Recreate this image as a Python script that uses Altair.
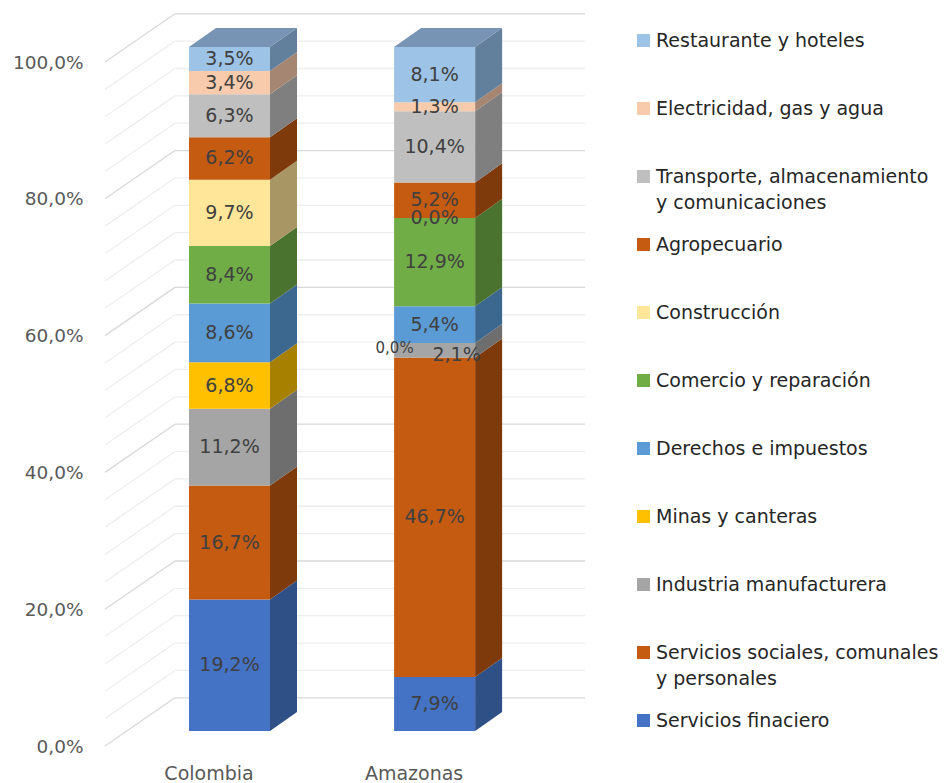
import altair as alt
import pandas as pd

# ---------------- data ----------------
paises = ["Colombia", "Amazonas"]
sectores = [
    "Servicios finaciero",
    "Servicios sociales, comunales y personales",
    "Industria manufacturera",
    "Minas y canteras",
    "Derechos e impuestos",
    "Comercio y reparación",
    "Construcción",
    "Agropecuario",
    "Transporte, almacenamiento y comunicaciones",
    "Electricidad, gas y agua",
    "Restaurante y hoteles",
]
colombia = [19.2, 16.7, 11.2, 6.8, 8.6, 8.4, 9.7, 6.2, 6.3, 3.4, 3.5]
amazonas = [7.9, 46.7, 2.1, 0.0, 5.4, 12.9, 0.0, 5.2, 10.4, 1.3, 8.1]
ticks_y = [0, 20, 40, 60, 80, 100]
grid_y = list(range(0, 101, 4))

# ---------------- styles ----------------
colores = ["#4472C4", "#C55A11", "#A5A5A5", "#FFC000", "#5B9BD5", "#70AD47",
           "#FFE699", "#C55A11", "#BFBFBF", "#F8CBAD", "#9DC3E6"]
colores_lado = ["#2F4F87", "#7F3A0C", "#6E6E6E", "#A88000", "#3C6890", "#4A7330",
                "#A89664", "#7F3A0C", "#7F7F7F", "#A58673", "#627F9C"]
colores_tapa = ["#3A5FA3", "#9E4810", "#8A8A8A", "#CC9A00", "#4C81B0", "#5C8D3A",
                "#CCB87A", "#9E4810", "#9A9A9A", "#C9A48C", "#7894B4"]
FONT = "DejaVu Sans"

# 3-D geometry in scale units
X_DOM = [0.393, 2.743]
MEDIO = 0.1975          # half bar width
FRENTE_DY = 2.2         # bar front plane lift
PROF_DX, PROF_DY = 0.1316, 2.78   # bar depth
MURO_X0, MURO_X1, MURO_X2 = 0.393, 0.734, 2.733
MURO_DY = 7.05

# ---------------- tables ----------------
rows = []
for p_i, (pais, vals) in enumerate(zip(paises, [colombia, amazonas])):
    base = 0.0
    for s_i, (sec, v) in enumerate(zip(sectores, vals)):
        rows.append(dict(pais=pais, pos=p_i + 1, sector=sec, orden=s_i, valor=v,
                         y0=base, y1=base + v))
        base += v
seg = pd.DataFrame(rows)
seg["xl"] = seg["pos"] - MEDIO
seg["xr"] = seg["pos"] + MEDIO
seg["f0"] = seg["y0"] + FRENTE_DY
seg["f1"] = seg["y1"] + FRENTE_DY
seg["fm"] = (seg["f0"] + seg["f1"]) / 2
seg["etiqueta"] = seg["valor"].map(lambda v: f"{v:.1f}".replace(".", ",") + "%")
seg["id"] = seg["pais"] + "|" + seg["sector"]

lado_rows = []
for _, r in seg.iterrows():
    lado_rows.append(dict(id=r["id"], sector=r["sector"], x=r["xr"], ya=r["f1"], yb=r["f0"]))
    lado_rows.append(dict(id=r["id"], sector=r["sector"], x=r["xr"] + PROF_DX,
                          ya=r["f1"] + PROF_DY, yb=r["f0"] + PROF_DY))
lado = pd.DataFrame(lado_rows)

tapa_rows = []
for pais in paises:
    r = seg[seg["pais"] == pais].sort_values("orden").iloc[-1]
    tapa_rows.append(dict(pais=pais, sector=r["sector"], ty=r["f1"], tx=r["xl"], tx2=r["xr"]))
    tapa_rows.append(dict(pais=pais, sector=r["sector"], ty=r["f1"] + PROF_DY,
                          tx=r["xl"] + PROF_DX, tx2=r["xr"] + PROF_DX))
tapa = pd.DataFrame(tapa_rows)

grid = pd.DataFrame({"v": grid_y})
grid["vb"] = grid["v"] + MURO_DY
grid["x0"] = MURO_X0
grid["x1"] = MURO_X1
grid["x2"] = MURO_X2
grid["mayor"] = grid["v"] % 20 == 0

# ---------------- scales / axes ----------------
xs = alt.Scale(domain=X_DOM, nice=False, zero=False)
ys = alt.Scale(domain=[0, 100], nice=False, zero=False)
x_lbl = "[" + ",".join("'" + p + "'" for p in paises) + "][datum.value - 1]"
x_axis = alt.Axis(values=[1, 2], labelExpr=x_lbl, domain=False, ticks=False, tickSize=0,
                  grid=False, labelOffset=-21, labelPadding=18, labelFont=FONT,
                  labelFontSize=19, labelColor="#595959", title=None)
y_axis = alt.Axis(values=ticks_y, labelExpr="replace(format(datum.value, '.1f'), '.', ',') + '%'",
                  domain=False, ticks=False, tickSize=0, grid=False, labelPadding=22,
                  labelFont=FONT, labelFontSize=18.5, labelColor="#595959", title=None)

def X(f):
    return alt.X(f, type="quantitative", scale=xs, axis=x_axis)

def Y(f):
    return alt.Y(f, type="quantitative", scale=ys, axis=y_axis, stack=None)

gcolor = alt.condition("datum.mayor", alt.value("#d9d9d9"), alt.value("#eeeeee"))

diag = alt.Chart(grid).mark_rule(strokeWidth=1.3).encode(
    x=X("x0"), x2="x1", y=Y("v"), y2="vb", color=gcolor,
    order=alt.Order("mayor:N"))
horiz = alt.Chart(grid).mark_rule(strokeWidth=1.3).encode(
    x=X("x1"), x2="x2", y=Y("vb"), y2="vb", color=gcolor,
    order=alt.Order("mayor:N"))

dom_leg = sectores[::-1]
rng_leg = colores[::-1]
saltos = {
    "Transporte, almacenamiento y comunicaciones": ["Transporte, almacenamiento", "y comunicaciones"],
    "Servicios sociales, comunales y personales": ["Servicios sociales, comunales", "y personales"],
}
lexpr = "datum.label"
for k, v in saltos.items():
    lexpr = f"datum.label == '{k}' ? ['{v[0]}', '{v[1]}'] : (" + lexpr + ")"

legend = alt.Legend(orient="none", legendX=529, legendY=-31, title=None,
                    symbolType="square", symbolSize=169, symbolStrokeWidth=0,
                    labelFont=FONT, labelFontSize=19, labelColor="#262626",
                    labelOffset=3, labelLimit=400, gridAlign="all", rowPadding=22,
                    labelExpr=lexpr)

frente = alt.Chart(seg).mark_bar(cornerRadius=0, strokeWidth=0).encode(
    x=X("xl"), x2="xr", y=Y("f0"), y2="f1",
    color=alt.Color("sector:N", scale=alt.Scale(domain=dom_leg, range=rng_leg), legend=legend),
)
lados = alt.Chart(lado).mark_area(orient="vertical").encode(
    x=X("x"), y=Y("ya"), y2="yb", detail="id:N",
    color=alt.Color("sector:N", scale=alt.Scale(domain=sectores, range=colores_lado), legend=None),
)
tapas = alt.Chart(tapa).mark_area(orient="horizontal").encode(
    y=Y("ty"), x=X("tx"), x2="tx2", detail="pais:N",
    color=alt.Color("sector:N", scale=alt.Scale(domain=sectores, range=colores_tapa), legend=None),
)

especial = "(datum.pais == 'Amazonas') && (datum.sector == 'Minas y canteras' || datum.sector == 'Industria manufacturera')"
txt = dict(font=FONT, color="#404040", align="center", baseline="middle")
etiquetas = alt.Chart(seg).transform_filter("!(" + especial + ")").mark_text(fontSize=19, **txt).encode(
    x=X("pos"), y=Y("fm"), text="etiqueta:N")
et_minas = alt.Chart(seg).transform_filter(
    "datum.pais == 'Amazonas' && datum.sector == 'Minas y canteras'").mark_text(
    fontSize=15, dx=-40, dy=5, **txt).encode(x=X("pos"), y=Y("fm"), text="etiqueta:N")
et_ind = alt.Chart(seg).transform_filter(
    "datum.pais == 'Amazonas' && datum.sector == 'Industria manufacturera'").mark_text(
    fontSize=19, dx=22, dy=5, **txt).encode(x=X("pos"), y=Y("fm"), text="etiqueta:N")

chart = alt.layer(diag, horiz, lados, frente, tapas, etiquetas, et_minas, et_ind).resolve_scale(
    color="independent"
).properties(
    width=482, height=684,
    padding={"left": 97, "top": 54, "right": 355, "bottom": 37},
    autosize=alt.AutoSizeParams(type="none"),
    background="white",
).configure(
    style={"guide-label": {"lineHeight": 26}},
    view=alt.ViewConfig(stroke=None),
)

chart.save("out.html", embed_options={"renderer": "svg", "actions": False})
